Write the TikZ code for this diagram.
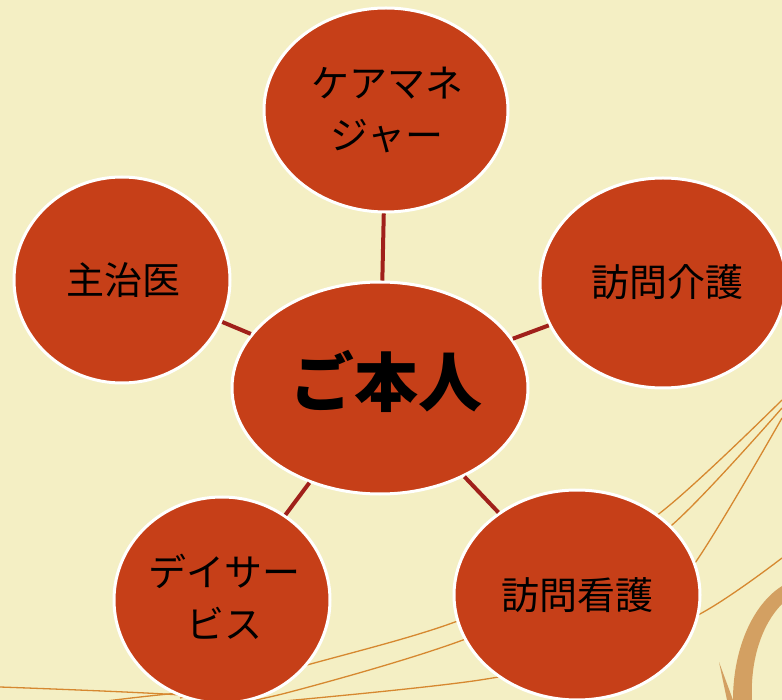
\documentclass[tikz,border=0pt]{standalone}
\usepackage{fontspec}
\newfontfamily\jp{Noto Sans CJK JP}
\usetikzlibrary{shapes.geometric}
\definecolor{bgcream}{RGB}{244,239,196}
\definecolor{discred}{RGB}{198,63,24}
\definecolor{linkred}{RGB}{160,32,26}
\definecolor{deco}{RGB}{214,136,48}
\definecolor{decoband}{RGB}{200,134,66}
\tikzset{
  disc/.style={ellipse, draw=white, line width=3pt, fill=discred, inner sep=0pt},
  lbl/.style={font=\jp\fontsize{38}{52}\selectfont, text=black, align=center},
  mainlbl/.style={font=\jp\bfseries\fontsize{64}{70}\selectfont, text=black},
  link/.style={draw=linkred, line width=4pt},
  decoline/.style={draw=deco, line width=1.3pt}
}
\begin{document}
\begin{tikzpicture}[x=1pt,y=-1pt]
\useasboundingbox (0,0) rectangle (782,700);
\fill[bgcream] (0,0) rectangle (782,700);
% decorative lines
\draw[decoline] plot[smooth, tension=0.6] coordinates {(180,698) (307,665) (455,622) (560,572) (660,513) (782,400)};
\draw[decoline] plot[smooth, tension=0.6] coordinates {(190,712) (290,692) (463,640) (580,585) (672,525) (782,408)};
\draw[decoline] plot[smooth, tension=0.6] coordinates {(273,702) (480,680) (600,652) (698,615) (782,558)};
\draw[decoline] plot[smooth, tension=0.6] coordinates {(560,690) (640,620) (695,563) (782,418)};
\draw[decoline] plot[smooth, tension=0.6] coordinates {(0,687) (180,695) (260,706)};
\draw[decoline] plot[smooth, tension=0.6] coordinates {(90,703) (180,693) (260,690)};
\fill[decoband, opacity=0.75] (733,700) .. controls (733,650) and (752,605) .. (782,586) -- (782,604) .. controls (762,624) and (750,660) .. (752,700) -- cycle;
\fill[decoband, opacity=0.75] (719,662) -- (733,700) -- (727,700) -- cycle;
% discs
\node[disc, minimum width=244pt, minimum height=204pt] (cm) at (386,110) {};
\node[disc, minimum width=216pt, minimum height=206pt] (dr) at (122,280) {};
\node[disc, minimum width=246pt, minimum height=210pt] (hk) at (663,283) {};
\node[disc, minimum width=216pt, minimum height=206pt] (ds) at (222,600) {};
\node[disc, minimum width=246pt, minimum height=210pt] (hn) at (577,595) {};
\node[disc, minimum width=296pt, minimum height=212pt] (me) at (380,388) {};
% links
\draw[link] (me) -- (cm);
\draw[link] (me) -- (dr);
\draw[link] (me) -- (hk);
\draw[link] (me) -- (ds);
\draw[link] (me) -- (hn);
% labels
\node[lbl] (tcm) at (387,110) {ケアマネ\\ジャー};
\node[lbl] (tdr) at (123,280) {主治医};
\node[lbl] (thk) at (667,282) {訪問介護};
\node[lbl] (tds) at (224,597) {デイサー\\ビス};
\node[lbl] (thn) at (577,595) {訪問看護};
\node[mainlbl] (tme) at (386,381) {ご本人};
\end{tikzpicture}
\end{document}
